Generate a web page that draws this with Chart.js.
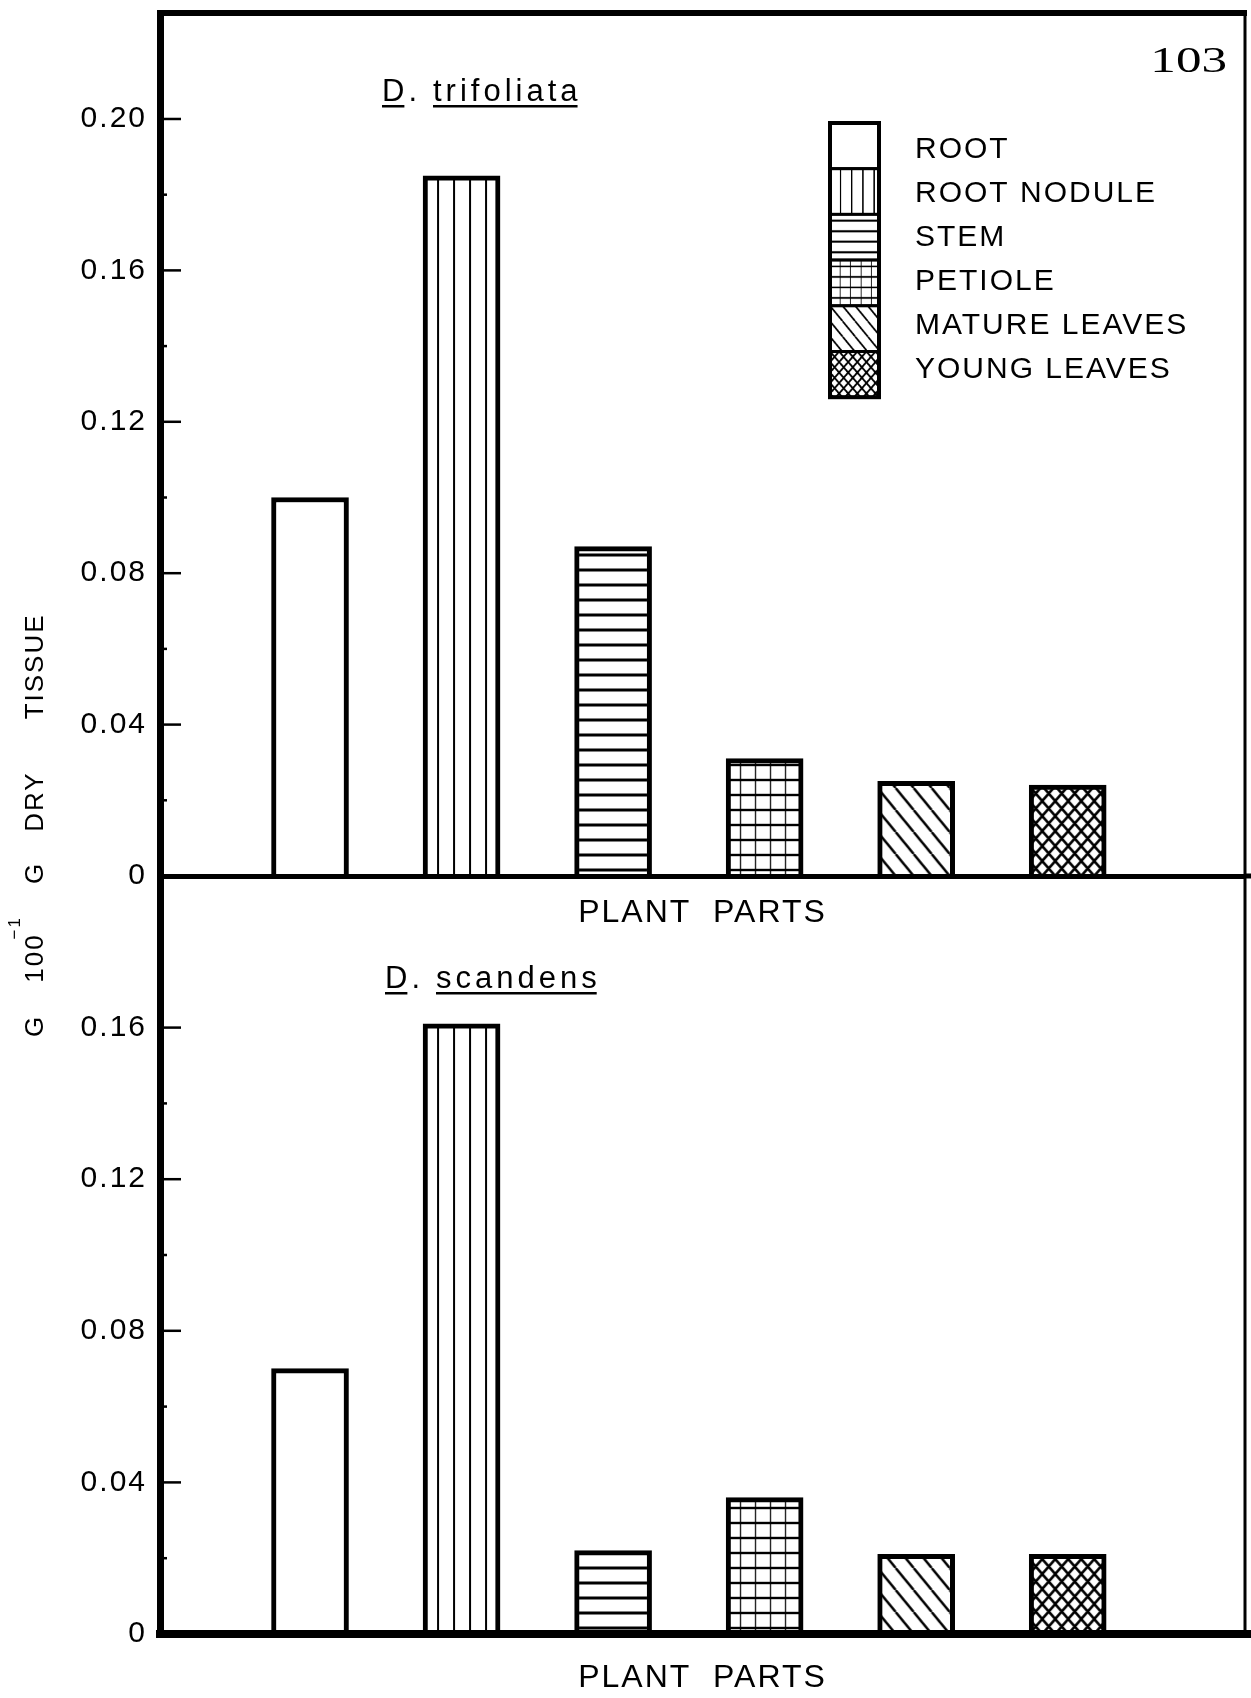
<!DOCTYPE html>
<html>
<head>
<meta charset="utf-8">
<title>Plant parts – D. trifoliata / D. scandens</title>
<script src="https://cdn.jsdelivr.net/npm/chart.js@4.4.1/dist/chart.umd.min.js"></script>
<style>
  html, body { margin: 0; padding: 0; background: #fff; }
  #wrap { position: relative; width: 1251px; height: 1698px; }
  #wrap canvas { position: absolute; left: 0; top: 0; }
</style>
</head>
<body>
<div id="wrap">
  <canvas id="upper" width="1251" height="1698"></canvas>
  <canvas id="lower" width="1251" height="1698"></canvas>
</div>
<script>
// ---- data ----
const PARTS = ['ROOT', 'ROOT NODULE', 'STEM', 'PETIOLE', 'MATURE LEAVES', 'YOUNG LEAVES'];
const PART_HATCH = ['none', 'vertical', 'horizontal', 'grid', 'diagonal', 'cross'];
const SPECIES = ['D. trifoliata', 'D. scandens'];
const TRIFOLIATA = [0.100, 0.185, 0.087, 0.031, 0.025, 0.024];
const SCANDENS = [0.070, 0.161, 0.022, 0.036, 0.021, 0.021];
const TOP_TICKS = [0, 0.04, 0.08, 0.12, 0.16, 0.20];
const TOP_TICK_LABELS = ['0', '0.04', '0.08', '0.12', '0.16', '0.20'];
const TOP_MINOR = [0.02, 0.06, 0.10, 0.14, 0.18];
const BOTTOM_TICKS = [0, 0.04, 0.08, 0.12, 0.16];
const BOTTOM_TICK_LABELS = ['0', '0.04', '0.08', '0.12', '0.16'];
const BOTTOM_MINOR = [0.02, 0.06, 0.10, 0.14];
const X_TITLE = 'PLANT  PARTS';
const Y_TITLE = ['G', '100', '\u22121', 'G', 'DRY', 'TISSUE'];
const PAGE_NO = '103';

// ---- styling ----
const FONT = '"Liberation Sans", Arial, sans-serif';
const BAR_WIDTH = 77;
Chart.defaults.font.family = FONT;
Chart.defaults.color = '#000';

// hatch tiles used for bar and legend fills
function hatchTile(kind) {
  const sizes = { vertical: [16, 16], horizontal: [16, 15], grid: [15, 15], diagonal: [18, 22], cross: [13, 15] };
  const [w, h] = sizes[kind];
  const c = document.createElement('canvas');
  c.width = w; c.height = h;
  const g = c.getContext('2d');
  g.fillStyle = '#fff'; g.fillRect(0, 0, w, h);
  g.fillStyle = '#000'; g.strokeStyle = '#000';
  if (kind === 'vertical') g.fillRect(14, 0, 2, h);
  if (kind === 'horizontal') g.fillRect(0, 7.5, w, 3);
  if (kind === 'grid') { g.fillRect(13.8, 0, 2.4, h); g.fillRect(0, 7.8, w, 2.4); }
  if (kind === 'diagonal' || kind === 'cross') {
    g.lineWidth = kind === 'cross' ? 2.6 : 2.4;
    g.beginPath();
    for (const dx of [-w, 0, w]) { g.moveTo(dx, 0); g.lineTo(dx + w, h); }
    if (kind === 'cross') for (const dx of [-w, 0, w]) { g.moveTo(dx + w, 0); g.lineTo(dx, h); }
    g.stroke();
  }
  return c;
}
const TILES = {};
['vertical', 'horizontal', 'grid', 'diagonal', 'cross'].forEach(k => { TILES[k] = hatchTile(k); });

function hatch(ctx, kind, ox, oy, s = 1) {
  if (kind === 'none') return '#fff';
  const p = ctx.createPattern(TILES[kind], 'repeat');
  p.setTransform(new DOMMatrix().translate(ox, oy).scale(s));
  return p;
}

function barDataset(values) {
  return {
    data: values.map((v, i) => ({ x: i, y: v })),
    barThickness: BAR_WIDTH,
    borderWidth: 5,
    borderColor: '#000',
    borderSkipped: 'start',
    backgroundColor: (c) => {
      if (c.type !== 'data' || !c.raw) return '#fff';
      const chart = c.chart;
      const left = chart.scales.x.getPixelForValue(c.raw.x) - BAR_WIDTH / 2;
      const base = chart.scales.y.getPixelForValue(0);
      return hatch(chart.ctx, PART_HATCH[c.dataIndex], left, base);
    }
  };
}

function tickLabel(v, values, labels) {
  const i = values.findIndex(t => Math.abs(t - v) < 1e-9);
  return i < 0 ? '' : labels[i];
}

// frame lines, inward tick marks and letter spacing for the stencil-style lettering
const framePlugin = {
  id: 'frame',
  beforeDraw(chart) { chart.ctx.letterSpacing = '2px'; },
  afterDraw(chart, args, o) {
    const { ctx, chartArea: a } = chart;
    ctx.save();
    ctx.strokeStyle = '#000';
    ctx.lineWidth = 3;
    ctx.beginPath(); ctx.moveTo(a.right, a.top - 2); ctx.lineTo(a.right, a.bottom); ctx.stroke();
    if (o.topEdge) {
      ctx.lineWidth = 6;
      ctx.beginPath(); ctx.moveTo(a.left - 3, a.top); ctx.lineTo(a.right + 2, a.top); ctx.stroke();
    }
    ctx.lineWidth = o.baseWidth;
    ctx.beginPath(); ctx.moveTo(a.right, a.bottom); ctx.lineTo(chart.width, a.bottom); ctx.stroke();
    const ys = chart.scales.y;
    ctx.lineWidth = 2.5;
    ys.ticks.forEach(t => {
      if (t.value === 0) return;
      const y = ys.getPixelForValue(t.value);
      const len = o.major.some(v => Math.abs(v - t.value) < 1e-9) ? 21 : 7;
      ctx.beginPath(); ctx.moveTo(a.left, y); ctx.lineTo(a.left + len, y); ctx.stroke();
    });
    ctx.restore();
  }
};

// stacked swatch legend of the plant parts
const legendPlugin = {
  id: 'partsLegend',
  afterDraw(chart, args, o) {
    const ctx = chart.ctx;
    ctx.save();
    ctx.strokeStyle = '#000';
    PARTS.forEach((name, i) => {
      const cy = o.y + i * o.h;
      ctx.fillStyle = hatch(ctx, PART_HATCH[i], o.x, cy, 0.7);
      ctx.fillRect(o.x, cy, o.w, o.h);
      ctx.lineWidth = 3;
      ctx.strokeRect(o.x, cy, o.w, o.h);
      ctx.fillStyle = '#000';
      ctx.font = '30px ' + FONT;
      ctx.textBaseline = 'alphabetic';
      ctx.textAlign = 'left';
      ctx.fillText(name, o.textX, o.firstBaseline + i * o.rowStep);
    });
    ctx.lineWidth = 4;
    ctx.strokeRect(o.x, o.y, o.w, o.h * PARTS.length);
    ctx.restore();
  }
};

// species name with each word underlined
function drawSpecies(ctx, name, x, baseline) {
  ctx.save();
  ctx.font = '31px ' + FONT;
  ctx.letterSpacing = '4px';
  ctx.fillStyle = '#000';
  ctx.textBaseline = 'alphabetic';
  ctx.textAlign = 'left';
  let cx = x;
  name.split(' ').forEach(word => {
    const core = word.replace(/\.$/, '');
    const wCore = ctx.measureText(core).width - 4;
    ctx.fillText(word, cx, baseline);
    ctx.fillRect(cx, baseline + 4, wCore, 2.5);
    cx += ctx.measureText(word).width + 12;
  });
  ctx.restore();
}

const upperText = {
  id: 'upperText',
  afterDraw(chart) {
    const ctx = chart.ctx;
    drawSpecies(ctx, SPECIES[0], 382, 101);
    ctx.save();
    ctx.font = '36px "Liberation Serif", "DejaVu Serif", serif';
    ctx.letterSpacing = '0px';
    ctx.fillStyle = '#000';
    ctx.textAlign = 'right';
    ctx.textBaseline = 'alphabetic';
    ctx.translate(1227, 72);
    ctx.scale(1.42, 1);
    ctx.fillText(PAGE_NO, 0, 0);
    ctx.restore();
  }
};

const lowerText = {
  id: 'lowerText',
  afterDraw(chart) {
    const ctx = chart.ctx;
    drawSpecies(ctx, SPECIES[1], 385, 988);
    // rotated value-axis title shared by both panels
    ctx.save();
    ctx.translate(34, 1037);
    ctx.rotate(-Math.PI / 2);
    ctx.fillStyle = '#000';
    ctx.textAlign = 'left';
    ctx.textBaseline = 'alphabetic';
    ctx.letterSpacing = '2px';
    const main = '26px ' + FONT, sup = '17px ' + FONT;
    const base = 9.3;
    let x = 0;
    const put = (t, font, dy) => { ctx.font = font; ctx.fillText(t, x, dy); x += ctx.measureText(t).width; };
    put(Y_TITLE[0], main, base); x += 32;
    put(Y_TITLE[1], main, base); x -= 6;
    put(Y_TITLE[2], sup, base - 23); x += 32;
    put(Y_TITLE[3], main, base); x += 30;
    put(Y_TITLE[4], main, base); x += 52;
    put(Y_TITLE[5], main, base);
    ctx.restore();
  }
};

function panelOptions(p) {
  return {
    responsive: false,
    animation: false,
    events: [],
    layout: { padding: p.padding },
    plugins: {
      legend: { display: false },
      tooltip: { enabled: false },
      frame: { topEdge: p.topEdge, major: p.ticks, baseWidth: p.baseWidth },
      partsLegend: { x: 830, y: 123, w: 49, h: 45.7, textX: 915, firstBaseline: 158, rowStep: 44 }
    },
    scales: {
      x: {
        type: 'linear', min: -0.99, max: 6.17, offset: false,
        ticks: { display: false },
        grid: { display: false, drawTicks: false },
        border: { display: true, width: p.baseWidth, color: '#000', z: 1 },
        title: {
          display: true, text: X_TITLE, color: '#000',
          font: { family: FONT, size: 32 },
          padding: { top: 0, bottom: p.titlePad }
        },
        afterFit: s => { s.height = p.xHeight; s.paddingLeft = 0; s.paddingRight = 0; }
      },
      y: {
        min: 0, max: p.max,
        afterBuildTicks: s => {
          s.ticks = [...p.ticks, ...p.minor].sort((a, b) => a - b).map(v => ({ value: v }));
        },
        ticks: {
          autoSkip: false, padding: 13, color: '#000',
          font: { family: FONT, size: 30 },
          callback: v => tickLabel(v, p.ticks, p.labels)
        },
        grid: { display: false, drawTicks: false },
        border: { display: true, width: 7, color: '#000', z: 1 },
        afterFit: s => { s.width = 160; s.paddingTop = 0; s.paddingBottom = 0; }
      }
    }
  };
}

new Chart(document.getElementById('upper'), {
  type: 'bar',
  data: { datasets: [barDataset(TRIFOLIATA)] },
  options: panelOptions({
    padding: { top: 13, right: 6, bottom: 748, left: 0 },
    topEdge: true, baseWidth: 5, max: 0.228, xHeight: 74, titlePad: 18,
    ticks: TOP_TICKS, labels: TOP_TICK_LABELS, minor: TOP_MINOR
  }),
  plugins: [framePlugin, legendPlugin, upperText]
});

new Chart(document.getElementById('lower'), {
  type: 'bar',
  data: { datasets: [barDataset(SCANDENS)] },
  options: panelOptions({
    padding: { top: 876, right: 6, bottom: 0, left: 0 },
    topEdge: false, baseWidth: 8, max: 0.2, xHeight: 64, titlePad: 1,
    ticks: BOTTOM_TICKS, labels: BOTTOM_TICK_LABELS, minor: BOTTOM_MINOR
  }),
  plugins: [framePlugin, lowerText]
});
</script>
</body>
</html>
